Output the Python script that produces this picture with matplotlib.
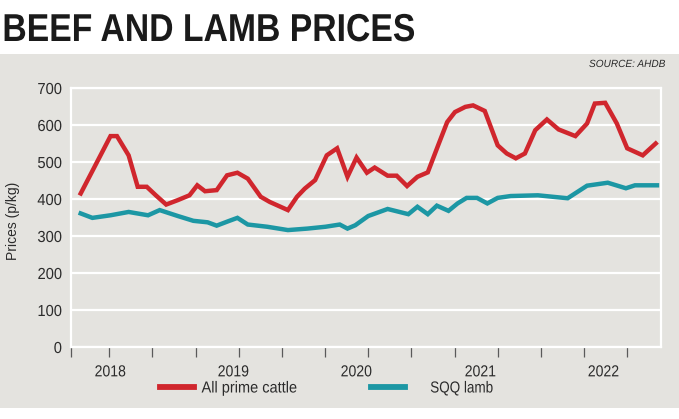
import numpy as np
import matplotlib
matplotlib.use("Agg")
import matplotlib.pyplot as plt
from matplotlib.patches import Rectangle
from matplotlib.lines import Line2D
from matplotlib.path import Path
from matplotlib.patheffects import AbstractPathEffect
from matplotlib.transforms import Affine2D

# ---------------- data ----------------
cattle_t = [2017.78, 2018.01, 2018.06, 2018.15, 2018.22, 2018.29, 2018.36, 2018.44,
            2018.53, 2018.62, 2018.68, 2018.74, 2018.83, 2018.91, 2018.99, 2019.07,
            2019.17, 2019.24, 2019.38, 2019.45, 2019.51, 2019.59, 2019.68, 2019.76,
            2019.84, 2019.91, 2019.99, 2020.05, 2020.15, 2020.22, 2020.30, 2020.38,
            2020.46, 2020.54, 2020.61, 2020.67, 2020.75, 2020.81, 2020.90, 2021.00,
            2021.07, 2021.14, 2021.21, 2021.29, 2021.38, 2021.47, 2021.60, 2021.69,
            2021.75, 2021.83, 2021.92, 2022.00, 2022.12, 2022.22]
cattle_price = [415, 570, 570, 518, 433, 433, 410, 385, 397, 410, 437, 421, 424, 464,
                471, 455, 406, 392, 370, 406, 428, 451, 518, 537, 460, 512, 471, 485,
                463, 463, 435, 460, 472, 545, 608, 635, 649, 653, 638, 545, 523, 510,
                523, 586, 615, 588, 570, 604, 658, 660, 604, 537, 518, 550]

lamb_t = [2017.78, 2017.87, 2018.01, 2018.15, 2018.30, 2018.39, 2018.53, 2018.65,
          2018.76, 2018.83, 2018.92, 2018.99, 2019.07, 2019.22, 2019.38, 2019.53,
          2019.67, 2019.78, 2019.84, 2019.90, 2020.00, 2020.15, 2020.31, 2020.38,
          2020.46, 2020.53, 2020.62, 2020.69, 2020.76, 2020.84, 2020.92, 2021.00,
          2021.10, 2021.31, 2021.54, 2021.69, 2021.85, 2021.99, 2022.06, 2022.23]
lamb_price = [361, 349, 356, 365, 356, 370, 354, 341, 337, 328, 340, 349, 331, 325,
              316, 320, 325, 331, 320, 329, 354, 373, 359, 379, 359, 382, 368, 388,
              403, 403, 388, 403, 408, 410, 402, 436, 444, 429, 437, 437]

years = ["2018", "2019", "2020", "2021", "2022"]
y_ticks = [0, 100, 200, 300, 400, 500, 600, 700]

title = "BEEF AND LAMB PRICES"
source = "SOURCE: AHDB"
ylabel = "Prices (p/kg)"
series_names = ["All prime cattle", "SQQ lamb"]

# ---------------- style ----------------
RED = "#d0262d"
TEAL = "#1c97a4"
PANEL = "#e4e3df"
TXT = "#2b2b2b"
FONT = "Liberation Sans"
W, H = 679, 419


class Squeeze(AbstractPathEffect):
    """Horizontally condense a text path about an anchor (text stays real text)."""
    def __init__(self, sx, anchor="left"):
        super().__init__()
        self.sx = sx
        self.anchor = anchor

    def draw_path(self, renderer, gc, tpath, affine, rgbFace=None):
        v = tpath.vertices
        if tpath.codes is not None:
            v = v[tpath.codes != Path.CLOSEPOLY]
        if len(v) == 0:
            renderer.draw_path(gc, tpath, affine, rgbFace)
            return
        d = affine.transform(v)
        x0, x1 = d[:, 0].min(), d[:, 0].max()
        a = {"left": x0, "right": x1, "center": 0.5 * (x0 + x1)}[self.anchor]
        t = affine + Affine2D().translate(-a, 0).scale(self.sx, 1).translate(a, 0)
        renderer.draw_path(gc, tpath, t, rgbFace)


plt.rcParams["font.family"] = [FONT, "DejaVu Sans"]

fig = plt.figure(figsize=(W / 100, H / 100), dpi=100)
fig.patch.set_facecolor("white")

# grey panel (behind everything)
fig.patches.append(Rectangle((0, 1 - 408 / H), 1, (408 - 54) / H,
                             transform=fig.transFigure, facecolor=PANEL,
                             edgecolor="none", zorder=-10))

ax = fig.add_axes([71 / W, 1 - 347 / H, (661 - 71) / W, (347 - 88) / H])
ax.set_facecolor(PANEL)
ax.set_zorder(1)

ax.plot(cattle_t, cattle_price, color=RED, lw=3.2, solid_joinstyle="miter",
        zorder=3)
ax.plot(lamb_t, lamb_price, color=TEAL, lw=3.2, solid_joinstyle="miter",
        zorder=3)

x_left, x_right = 2017.705, 2022.261
ax.set_xlim(x_left, x_right)
ax.set_ylim(0, 700)

# y axis
ax.set_yticks(y_ticks)
ax.set_yticklabels([str(v) for v in y_ticks])
ax.tick_params(axis="y", length=0, pad=6.5, labelsize=11.5, labelcolor=TXT)
ax.yaxis.grid(True, color="white", lw=1.6)
ax.set_axisbelow(True)

# x axis: tick marks every four months, year labels as separate major ticks
minor = [x_left] + list(2018 + np.arange(13) / 3)
ax.set_xticks(minor, minor=True)
label_pos = [2018.008, 2018.958, 2019.907, 2020.865, 2021.815]
ax.set_xticks(label_pos)
ax.set_xticklabels(years)
ax.tick_params(axis="x", which="major", length=0, pad=12.5, labelsize=11.5,
               labelcolor=TXT)
ax.tick_params(axis="x", which="minor", length=7.5, width=0.9, color="#5a5a5a",
               direction="out")

for s in ax.spines.values():
    s.set_color("white")
    s.set_linewidth(1.6)

for lbl in ax.get_yticklabels():
    lbl.set_path_effects([Squeeze(0.92, "right")])
for lbl in ax.get_xticklabels():
    lbl.set_path_effects([Squeeze(0.88, "center")])

# y label
fig.text(13 / W, 1 - 221 / H, ylabel, rotation=90, ha="center", va="center",
         fontsize=10, color=TXT)

# title and source
t_title = fig.text(2 / W, 1 - 41 / H, title, ha="left", va="baseline",
                   fontsize=28, fontweight="bold", color="#1a1a1a")
t_src = fig.text(665 / W, 1 - 64 / H, source, ha="right", va="center",
                 fontsize=7.5, style="italic", color=TXT)

# legends (two single-entry legends to reproduce the spacing)
fs = 11.5
h_red = Line2D([], [], color=RED, lw=4.2)
h_teal = Line2D([], [], color=TEAL, lw=4.2)
leg1 = fig.legend(handles=[h_red], labels=[series_names[0]], loc="center left",
                  bbox_to_anchor=(160 / W, 1 - 388 / H), frameon=False,
                  fontsize=fs, handlelength=2.1, handletextpad=0.5,
                  borderpad=0, borderaxespad=0, labelcolor=TXT)
leg2 = fig.legend(handles=[h_teal], labels=[series_names[1]], loc="center left",
                  bbox_to_anchor=(371 / W, 1 - 388 / H), frameon=False,
                  fontsize=fs, handlelength=2.1, handletextpad=1.6,
                  borderpad=0, borderaxespad=0, labelcolor=TXT)

# fit the widths of the condensed texts
fig.canvas.draw()
r = fig.canvas.get_renderer()


def fit(txt, target, anchor):
    w = txt.get_window_extent(renderer=r).width
    txt.set_path_effects([Squeeze(target / w, anchor)])


fit(t_title, 413, "left")
fit(t_src, 76, "right")
fit(leg1.get_texts()[0], 96, "left")
fit(leg2.get_texts()[0], 63, "left")

fig.savefig("out.png", dpi=100, facecolor="white")
